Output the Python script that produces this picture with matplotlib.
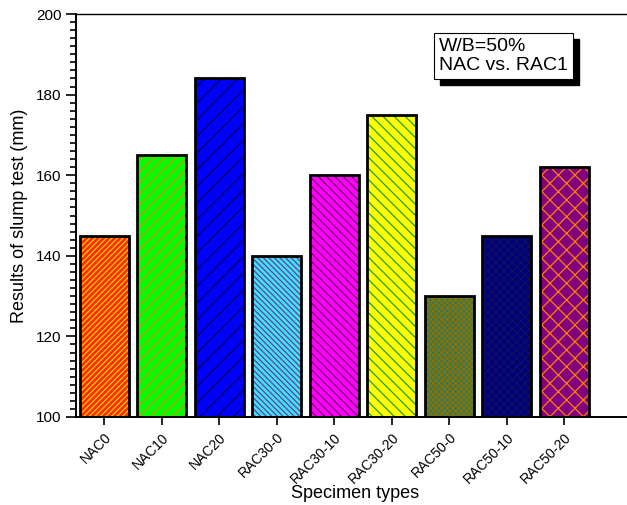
import matplotlib
matplotlib.use("Agg")
import matplotlib.pyplot as plt
import matplotlib.patches as mpatches
from matplotlib.ticker import MultipleLocator

plt.rcParams['font.family'] = ['Liberation Sans', 'DejaVu Sans']

categories = ["NAC0", "NAC10", "NAC20", "RAC30-0", "RAC30-10", "RAC30-20",
              "RAC50-0", "RAC50-10", "RAC50-20"]
values = [145, 165, 184, 140, 160, 175, 130, 145, 162]
face_colors = ["#ff2a00", "#00ff00", "#0000ff", "#33e8f8", "#ff00ff", "#ffff00",
               "#2e7a5a", "#00007a", "#800080"]
hatch_colors = ["#ffd000", "#d08a20", "#000060", "#8030a0", "#700060", "#20a020",
                "#907000", "#101060", "#ff8000"]
hatches = ["//////", "///", "//", "\\\\\\\\\\\\", "\\\\\\\\", "\\\\\\",
           "xxxxxx", "xxxx", "xx"]

fig = plt.figure(figsize=(6.27, 5.05), dpi=100)
ax = fig.add_axes([76/627, 1-417/505, 1-76/627+0.01, (417-14)/505])

plt.rcParams['hatch.linewidth'] = 0.9
x = list(range(len(categories)))
for i in x:
    ax.bar(i, values[i] - 100, bottom=100, width=0.85, color=face_colors[i],
           hatch=hatches[i], edgecolor=hatch_colors[i], linewidth=0, zorder=2)
    ax.bar(i, values[i] - 100, bottom=100, width=0.85, fill=False,
           edgecolor="black", linewidth=2, zorder=3)

ax.set_ylim(100, 200)
ax.set_xlim(-0.49, 9.2)
ax.yaxis.set_major_locator(MultipleLocator(20))
ax.yaxis.set_minor_locator(MultipleLocator(2))
ax.tick_params(axis='y', which='major', direction='out', length=7, width=1.2, labelsize=11)
ax.tick_params(axis='y', which='minor', direction='out', length=4, width=1.2)
ax.set_xticks(x)
ax.set_xticklabels(categories, rotation=45, ha='right', rotation_mode='anchor', fontsize=10)
ax.tick_params(axis='x', direction='out', length=6, width=1.2)
ax.spines['right'].set_visible(False)
for s in ['left', 'bottom']:
    ax.spines[s].set_linewidth(1.4)
ax.spines['top'].set_linewidth(1.0)

ax.set_ylabel("Results of slump test (mm)", fontsize=13, labelpad=6)
ax.set_xlabel("Specimen types", fontsize=13, labelpad=-1)

txt = "W/B=50%\nNAC vs. RAC1"
t = ax.text(0.652, 0.94, txt, transform=ax.transAxes, fontsize=14, va='top', ha='left',
            color='black', linespacing=1.15,
            bbox=dict(boxstyle='square,pad=0.25', fc='white', ec='black', lw=0.8), zorder=6)
fig.canvas.draw()
bb = t.get_bbox_patch().get_window_extent()
shadow = mpatches.Rectangle((bb.x0 + 6, bb.y0 - 6), bb.width, bb.height,
                            transform=None, facecolor='black', edgecolor='black',
                            zorder=5)
ax.add_artist(shadow)

fig.savefig("out.png", dpi=100)
